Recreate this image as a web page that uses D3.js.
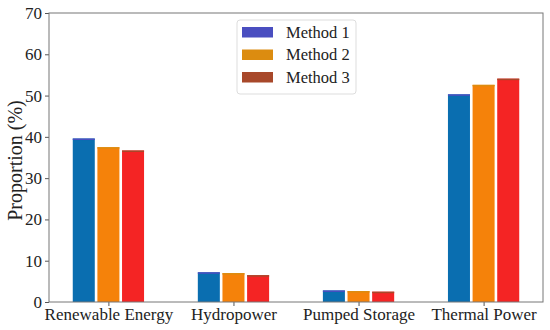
<!DOCTYPE html>
<html>
<head>
<meta charset="utf-8">
<script src="https://cdn.jsdelivr.net/npm/d3@7"></script>
<style>
  body { margin: 0; background: #fff; }
  svg text { font-family: "Liberation Serif", "DejaVu Serif", serif; fill: #222; }
</style>
</head>
<body>
<div id="chart"></div>
<script>
var categories = ["Renewable Energy", "Hydropower", "Pumped Storage", "Thermal Power"];
var methods = ["Method 1", "Method 2", "Method 3"];
var method1 = [39.6, 7.2, 2.8, 50.3];
var method2 = [37.5, 7.0, 2.65, 52.6];
var method3 = [36.7, 6.5, 2.5, 54.1];
var yTicks = [0, 10, 20, 30, 40, 50, 60, 70];

var barColors = ["#0a6eb0", "#f5820a", "#f42424"];
var legendColors = ["#4a4ec0", "#dc8c10", "#a8482a"];

var WIDTH = 550, HEIGHT = 330,
    PLOT_L = 49, PLOT_R = 543, PLOT_T = 13, PLOT_B = 302;

var series = [method1, method2, method3];

var svg = d3.select("#chart").append("svg")
    .attr("width", WIDTH)
    .attr("height", HEIGHT);

var x = d3.scaleLinear().domain([-0.475, 3.475]).range([PLOT_L, PLOT_R]);
var y = d3.scaleLinear().domain([0, 70]).range([PLOT_B, PLOT_T]);

var barW = 0.176, barStep = 0.197;

// bars
var groups = svg.append("g").attr("id", "bars");
series.forEach(function (vals, m) {
    groups.selectAll("rect.m" + m)
        .data(vals)
        .enter().append("rect")
        .attr("class", "m" + m)
        .attr("x", function (d, i) { return x(i + (m - 1) * barStep - barW / 2); })
        .attr("width", x(barW) - x(0))
        .attr("y", function (d) { return y(d); })
        .attr("height", function (d) { return y(0) - y(d); })
        .attr("fill", barColors[m]);
    // thin darker cap
    groups.selectAll("rect.c" + m)
        .data(vals)
        .enter().append("rect")
        .attr("class", "c" + m)
        .attr("x", function (d, i) { return x(i + (m - 1) * barStep - barW / 2); })
        .attr("width", x(barW) - x(0))
        .attr("y", function (d) { return y(d); })
        .attr("height", 1.5)
        .attr("fill", legendColors[m]);
});

// axes
var yAxis = d3.axisLeft(y).tickValues(yTicks).tickSize(4).tickPadding(3);
var gy = svg.append("g").attr("transform", "translate(" + PLOT_L + ",0)").call(yAxis);

var xAxis = d3.axisBottom(x).tickValues([0, 1, 2, 3])
    .tickFormat(function (d) { return categories[d]; })
    .tickSize(4).tickPadding(2);
var gx = svg.append("g").attr("transform", "translate(0," + PLOT_B + ")").call(xAxis);

[gx, gy].forEach(function (g) {
    g.attr("font-family", null).attr("font-size", null);
    g.select(".domain").remove();
    g.selectAll("line").attr("stroke", "#555");
    g.selectAll("text")
        .style("font-family", "'Liberation Serif', serif")
        .style("font-size", "17px");
});

// frame
svg.append("rect")
    .attr("x", PLOT_L).attr("y", PLOT_T)
    .attr("width", PLOT_R - PLOT_L).attr("height", PLOT_B - PLOT_T)
    .attr("fill", "none").attr("stroke", "#777").attr("stroke-width", 1);

// y label
svg.append("text")
    .attr("transform", "translate(22," + ((PLOT_T + PLOT_B) / 2 + 3) + ") rotate(-90)")
    .attr("text-anchor", "middle")
    .style("font-size", "20px")
    .text("Proportion (%)");

// legend
var legend = svg.append("g").attr("transform", "translate(237,20)");
legend.append("rect")
    .attr("width", 119).attr("height", 74)
    .attr("rx", 3)
    .attr("fill", "#fff").attr("fill-opacity", 0.8)
    .attr("stroke", "#ddd");
methods.forEach(function (name, i) {
    legend.append("rect")
        .attr("x", 5).attr("y", 7 + i * 22.5)
        .attr("width", 31).attr("height", 10.5)
        .attr("fill", legendColors[i]);
    legend.append("text")
        .attr("x", 49).attr("y", 17.5 + i * 22.5)
        .style("font-size", "16.5px")
        .text(name);
});
</script>
</body>
</html>
